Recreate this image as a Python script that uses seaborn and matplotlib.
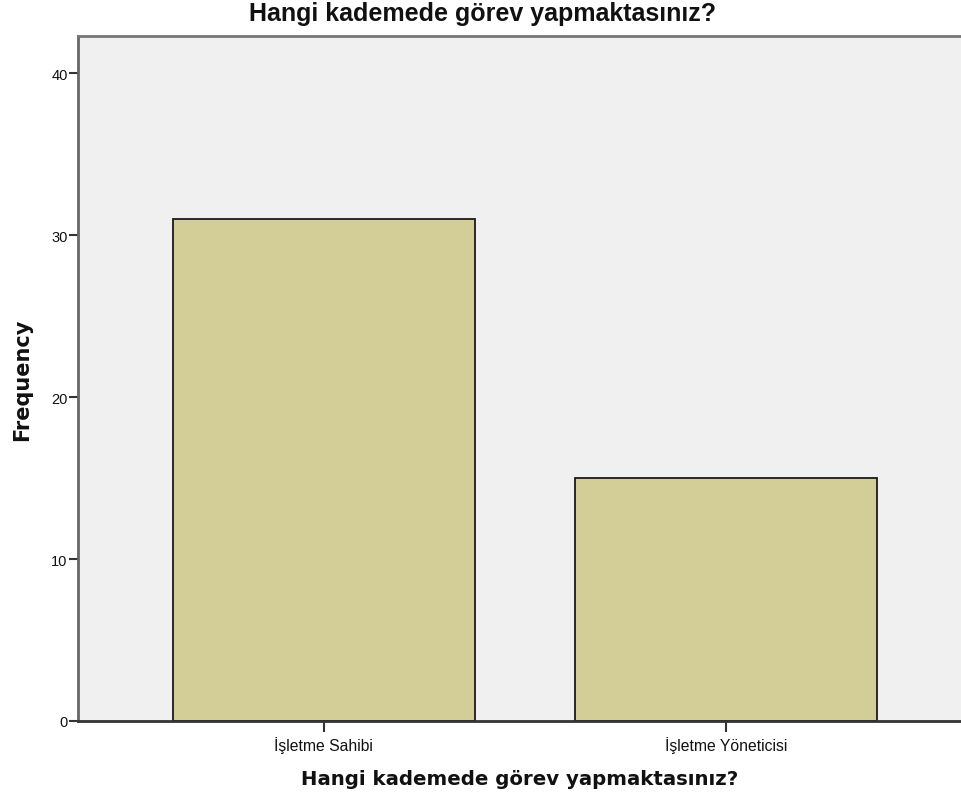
import matplotlib
matplotlib.use("Agg")
import matplotlib.pyplot as plt
import seaborn as sns
import pandas as pd

# Data
categories = ["İşletme Sahibi", "İşletme Yöneticisi"]
frequency = [31, 15]
yticks = [0, 10, 20, 30, 40]

title = "Hangi kademede görev yapmaktasınız?"

df = pd.DataFrame({"kademe": categories, "Frequency": frequency})

sns.set_style("white")
plt.rcParams["font.family"] = ["Liberation Sans", "DejaVu Sans"]

fig = plt.figure(figsize=(9.62, 8.03), dpi=100)
ax = fig.add_axes([78 / 962, 81 / 803, 1 - 78 / 962, (722 - 37) / 803])
ax.set_facecolor("#F0F0F0")

sns.barplot(data=df, x="kademe", y="Frequency", color="#D3CE97", saturation=1,
            edgecolor="#1a1a1a", linewidth=1.3, width=0.75, ax=ax)

ax.set_xlim(-0.61, 1.586)
ax.set_ylim(0, 42.3)
ax.set_yticks(yticks)
ax.set_yticklabels([str(v) for v in yticks])

ax.tick_params(axis="y", direction="out", length=6.5, width=1.5, color="#333333",
               labelsize=10.5, labelcolor="#111111", pad=1, left=True)
ax.tick_params(axis="x", direction="out", length=8, width=1.5, color="#333333",
               labelsize=11.3, labelcolor="#111111", pad=3, bottom=True)

for side in ["left", "top", "bottom"]:
    ax.spines[side].set_visible(True)
    ax.spines[side].set_linewidth(2)
ax.spines["left"].set_color("#666666")
ax.spines["top"].set_color("#777777")
ax.spines["bottom"].set_color("#333333")
ax.spines["right"].set_visible(False)

ax.set_xlabel(title, fontsize=14.2, fontweight="bold", color="#111111",
              family=["DejaVu Sans"], labelpad=11)
ax.set_ylabel("Frequency", fontsize=15, fontweight="bold", color="#111111",
              family=["DejaVu Sans"], labelpad=14)
fig.suptitle(title, x=0.502, y=0.997, fontsize=18, fontweight="bold", color="#111111",
             family=["Liberation Sans Narrow", "Liberation Sans"], va="top")

fig.savefig("out.png", dpi=100)
